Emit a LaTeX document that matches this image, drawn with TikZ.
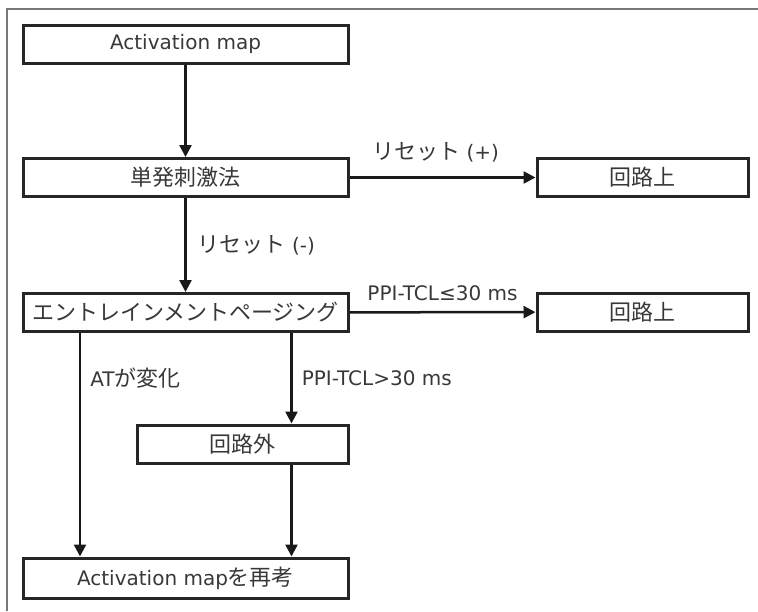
\documentclass[tikz,border=0pt]{standalone}
\usepackage{fontspec}
\usepackage{tikz}
\usetikzlibrary{arrows.meta}
\setmainfont{DejaVu Sans}
\newfontfamily\jpfont{Noto Sans CJK JP}[Scale=1.1]
\newcommand{\jp}[1]{{\jpfont #1}}
\definecolor{framegray}{rgb}{0.47, 0.47, 0.47}
\definecolor{textgray}{rgb}{0.22, 0.22, 0.22}

\begin{document}
\begin{tikzpicture}[x=1pt, y=-1pt,
		  box/.style={draw=black!85, line width=3pt, minimum height=38pt, inner sep=0pt, text=textgray},
		  wide/.style={box, minimum width=325pt},
		  narrow/.style={box, minimum width=211pt},
		  flow/.style={line width=2.5pt, draw=black!90, -{Triangle[length=12pt, width=12pt]}},
		  lbl/.style={text=textgray, inner sep=1pt},
		  font=\fontsize{20}{24}\selectfont]
		  \useasboundingbox (0,0) rectangle (758,611);
		  % frame of the figure (only top and left edge show)
		  \draw[framegray, line width=2pt] (7,611) -- (7,9) -- (758,9);

		  \node[wide] (map) at (185.5,44) {Activation map};
		  \node[wide] (stim) at (185.5,177.5) {\jp{単発刺激法}};
		  \node[narrow] (onA) at (642.5,177.5) {\jp{回路上}};
		  \node[wide] (entr) at (185.5,312.5) {\jp{エントレインメントページング}};
		  \node[narrow] (onB) at (642.5,312) {\jp{回路上}};
		  \node[narrow] (off) at (242.5,444) {\jp{回路外}};
		  \node[wide, minimum height=40pt] (remap) at (185.5,578) {Activation map\jp{を再考}};

		  \draw[flow] (map) -- (stim);
		  \draw[flow] (stim) -- node[lbl, midway, above=13pt, xshift=-7pt] {\jp{リセット} (+)} (onA);
		  \draw[flow] (stim) -- node[lbl, midway, right=10pt] {\jp{リセット} (-)} (entr);
		  \draw[flow] (entr) -- node[lbl, midway, above=9pt] {PPI-TCL≤30 ms} (onB);
		  \draw[flow] (entr.south -| off.east) ++(-58,0) coordinate (split)
		    -- node[lbl, midway, right=8pt] {PPI-TCL>30 ms} (split |- off.north);
		  \draw[flow] (entr.south -| 80,0) coordinate (left)
		    -- node[lbl, pos=0.2, right=8pt] {AT\jp{が変化}} (left |- remap.north);
		  \draw[flow] (off.south -| split) -- (split |- remap.north);
\end{tikzpicture}
\end{document}
